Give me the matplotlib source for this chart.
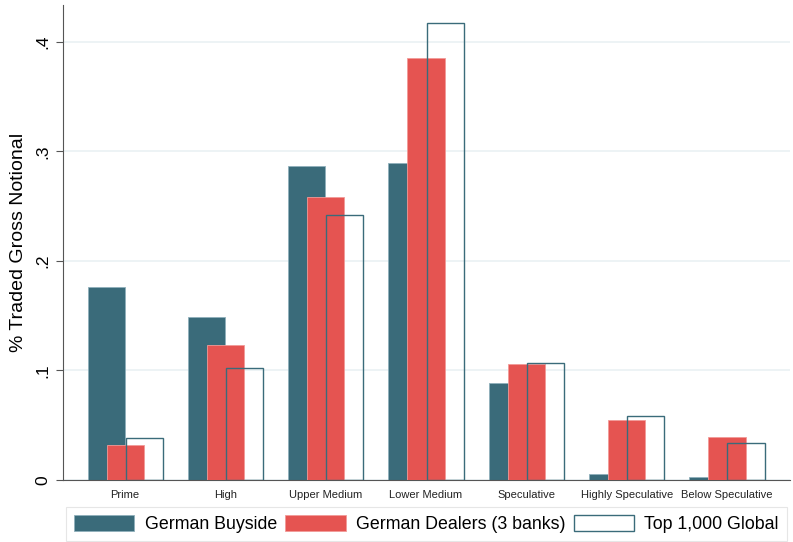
import matplotlib.pyplot as plt
import numpy as np

plt.rcParams['font.family'] = ['Liberation Sans', 'DejaVu Sans']

categories = ['Prime', 'High', 'Upper Medium', 'Lower Medium',
              'Speculative', 'Highly Speculative', 'Below Speculative']
buyside = [0.176, 0.149, 0.287, 0.289, 0.089, 0.0055, 0.003]
dealers = [0.032, 0.123, 0.258, 0.385, 0.106, 0.055, 0.039]
top_global = [0.038, 0.102, 0.242, 0.417, 0.107, 0.058, 0.034]
yticks = [0, 0.1, 0.2, 0.3, 0.4]
ytick_labels = ['0', '.1', '.2', '.3', '.4']

teal = '#3a6b7a'
red = '#e55451'

fig = plt.figure(figsize=(7.93, 5.42), dpi=100)
ax = fig.add_axes([0.0794, 0.1144, 0.917, 0.877])

x = np.arange(len(categories))
w = 0.37
off = 0.19

ax.bar(x - off, buyside, w, color=teal, edgecolor='#8fb0bb', linewidth=0.6,
       label='German Buyside', zorder=2)
ax.bar(x, dealers, w, color=red, edgecolor='#f29a98', linewidth=0.6,
       label='German Dealers (3 banks)', zorder=3)
ax.bar(x + off, top_global, w, facecolor='none', edgecolor=teal, linewidth=1.0,
       label='Top 1,000 Global', zorder=4)

ax.set_xlim(-0.62, 6.63)
ax.set_ylim(0, 0.434)
ax.set_xticks(x)
ax.set_xticklabels(categories, fontsize=8, color='#222222')
ax.tick_params(axis='x', length=0, pad=7)
ax.set_yticks(yticks)
ax.set_yticklabels(ytick_labels, rotation=90, va='center', fontsize=12.5)
ax.tick_params(axis='y', length=5, color='#555555', width=0.8, pad=4)
ax.set_ylabel('% Traded Gross Notional', fontsize=14, labelpad=6)

ax.grid(axis='y', color='#eaf1f4', linewidth=1.2, zorder=0)
ax.set_axisbelow(True)
for s in ['top', 'right']:
    ax.spines[s].set_visible(False)
ax.spines['left'].set_color('#555555')
ax.spines['bottom'].set_color('#555555')

handles, labels = ax.get_legend_handles_labels()
leg = fig.legend(handles, labels, loc='center', ncol=3,
                 bbox_to_anchor=(0.538, 0.033), fontsize=12.75,
                 handlelength=3.4, handleheight=1.0, handletextpad=0.6,
                 columnspacing=0.45, borderpad=0.45, fancybox=False,
                 edgecolor='#e6e6e6', framealpha=1)
leg.get_frame().set_linewidth(0.8)

fig.savefig('out.png', dpi=100)
